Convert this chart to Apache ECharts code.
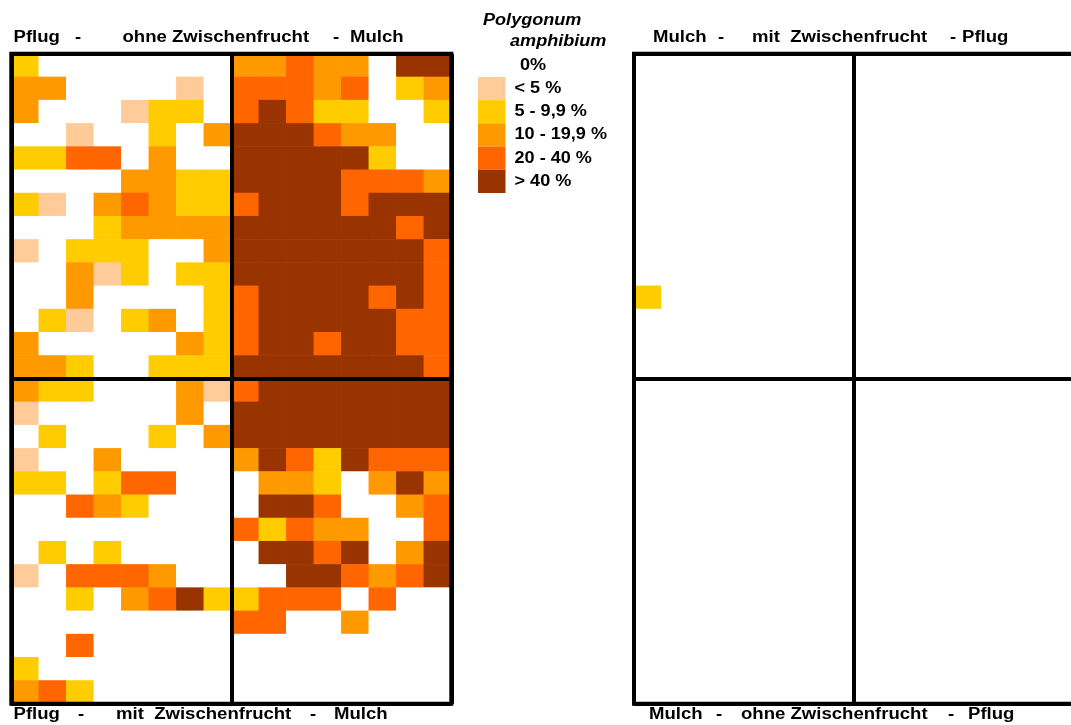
<!DOCTYPE html>
<html>
<head>
<meta charset="utf-8">
<title>Polygonum amphibium – Deckungsgrad</title>
<script src="https://cdn.jsdelivr.net/npm/echarts/dist/echarts.min.js"></script>
<style>
  html, body { margin: 0; padding: 0; background: #fff; }
  #chart { width: 1071px; height: 725px; }
</style>
</head>
<body>
<div id="chart"></div>
<script>
// Cover classes of Polygonum amphibium (index = digit used in the plot rows)
const classLabels = ['0%', '< 5 %', '5 - 9,9 %', '10 - 19,9 %', '20 - 40 %', '> 40 %'];
const speciesName = ['Polygonum', 'amphibium'];

// Field A, upper half: ohne Zwischenfrucht (left: Pflug, right: Mulch); one digit per plot
const aPflugOhne = [
  '20000000', '33000010', '30001220', '00100203', '22440300', '00003322', '21034322',
  '00023333', '10222003', '00312022', '00300002', '02102302', '30000032', '33200222'
];
const aMulchOhne = [
  '33433055', '44434023', '45422002', '55543300', '55555200', '55554443', '45554555',
  '55555545', '55555554', '55555554', '45555454', '45555544', '45545544', '55555554'
];
// Field A, lower half: mit Zwischenfrucht
const aPflugMit = [
  '32200031', '10000030', '02000203', '10030000', '22024400', '00432000', '00000000',
  '02020000', '10444300', '00203452', '00000000', '00400000', '20000000', '34200000'
];
const aMulchMit = [
  '45555555', '55555555', '55555555', '35425444', '03320353', '05540034', '42433004',
  '05545035', '00554345', '24440400', '44003000', '00000000', '00000000', '00000000'
];

// Field B, upper half: mit Zwischenfrucht (left: Mulch, right: Pflug)
const bMulchMit = [
  '00000000', '00000000', '00000000', '00000000', '00000000', '00000000', '00000000',
  '00000000', '00000000', '00000000', '20000000', '00000000', '00000000', '00000000'
];
const bPflugMit = [
  '00000000', '00000000', '00000000', '00000000', '00000000', '00000000', '00000000',
  '00000000', '00000000', '00000000', '00000000', '00000000', '00000000', '00000000'
];
// Field B, lower half: ohne Zwischenfrucht
const bMulchOhne = [
  '00000000', '00000000', '00000000', '00000000', '00000000', '00000000', '00000000',
  '00000000', '00000000', '00000000', '00000000', '00000000', '00000000', '00000000'
];
const bPflugOhne = [
  '00000000', '00000000', '00000000', '00000000', '00000000', '00000000', '00000000',
  '00000000', '00000000', '00000000', '00000000', '00000000', '00000000', '00000000'
];

// Headings above and below each field
const titleTopA = ['Pflug', '-', 'ohne Zwischenfrucht', '-', 'Mulch'];
const titleBottomA = ['Pflug', '-', 'mit  Zwischenfrucht', '-', 'Mulch'];
const titleTopB = ['Mulch', '-', 'mit  Zwischenfrucht', '-', 'Pflug'];
const titleBottomB = ['Mulch', '-', 'ohne Zwischenfrucht', '-', 'Pflug'];

// ---- styling / layout ----
const classColors = ['#FFFFFF', '#FFCC99', '#FFCC00', '#FF9900', '#FF6600', '#993300'];
const FONT_FAMILY = '"Liberation Sans", Arial, Helvetica, sans-serif';
const GRID_TOP = 53.7, GRID_W = 440, GRID_H = 650;
const ROW_H = GRID_H / 28;
const titleX = {
  topA: [13.5, 75, 122.5, 333, 350],
  bottomA: [13.5, 78, 116, 310, 334],
  topB: [653, 718, 752, 950, 962],
  bottomB: [649, 716, 741, 948, 968]
};
const TITLE_TOP_Y = 37.5, TITLE_BOTTOM_Y = 714.5;

function blockCells(topLeft, topRight, bottomLeft, bottomRight) {
  const rows = topLeft.map((r, i) => r + topRight[i])
    .concat(bottomLeft.map((r, i) => r + bottomRight[i]));
  const cells = [];
  rows.forEach((row, y) => row.split('').forEach((ch, x) => cells.push([x, y, Number(ch)])));
  return cells;
}

const cellsA = blockCells(aPflugOhne, aMulchOhne, aPflugMit, aMulchMit);
const cellsB = blockCells(bMulchMit, bPflugMit, bMulchOhne, bPflugOhne);
const nCols = aPflugOhne[0].length * 2;
const nRows = aPflugOhne.length * 2;
const colIds = Array.from({ length: nCols }, (_, i) => String(i));
const rowIds = Array.from({ length: nRows }, (_, i) => String(i));

function xAxisFor(gridIndex) {
  return {
    gridIndex, type: 'category', data: colIds, z: 5,
    axisLine: { show: false }, axisTick: { show: false }, axisLabel: { show: false },
    splitLine: { show: true, interval: nCols / 2 - 1, lineStyle: { color: '#000', width: 4 } }
  };
}
function yAxisFor(gridIndex) {
  return {
    gridIndex, type: 'category', data: rowIds, inverse: true, z: 5,
    axisLine: { show: false }, axisTick: { show: false }, axisLabel: { show: false },
    splitLine: { show: true, interval: nRows / 2 - 1, lineStyle: { color: '#000', width: 4 } }
  };
}
function gridAt(left) {
  return {
    left, top: GRID_TOP, width: GRID_W, height: GRID_H, show: true, z: 5,
    backgroundColor: 'transparent', borderColor: '#000', borderWidth: 4,
    containLabel: false, outerBoundsMode: 'none'
  };
}

function titleTexts(words, xs, y) {
  return words.map((w, i) => ({
    type: 'text', x: xs[i], y, scaleX: 1.16, silent: true,
    style: {
      text: w, fill: '#000', font: 'bold 16px ' + FONT_FAMILY,
      textVerticalAlign: 'middle', verticalAlign: 'middle'
    }
  }));
}

const LEGEND_X = 478, LEGEND_SW = 27.5;
const legendGraphics = [];
classLabels.forEach((label, i) => {
  const y = GRID_TOP + ROW_H * i;
  legendGraphics.push({
    type: 'rect', silent: true,
    shape: { x: LEGEND_X, y, width: LEGEND_SW, height: ROW_H },
    style: { fill: classColors[i] }
  });
  legendGraphics.push({
    type: 'text', silent: true, x: i === 0 ? 520 : 514.5, y: y + ROW_H / 2, scaleX: 1.13,
    style: {
      text: label, fill: '#000', font: 'bold 16px ' + FONT_FAMILY,
      textVerticalAlign: 'middle', verticalAlign: 'middle'
    }
  });
});
speciesName.forEach((w, i) => {
  legendGraphics.push({
    type: 'text', silent: true, x: i === 0 ? 483 : 510, y: i === 0 ? 21 : 41.5, scaleX: 1.13,
    style: {
      text: w, fill: '#000', font: 'italic bold 16px ' + FONT_FAMILY,
      textVerticalAlign: 'middle', verticalAlign: 'middle'
    }
  });
});

const chart = echarts.init(document.getElementById('chart'), null, { renderer: 'canvas' });
chart.setOption({
  animation: false,
  backgroundColor: '#fff',
  grid: [gridAt(11.3), gridAt(634)],
  xAxis: [xAxisFor(0), xAxisFor(1)],
  yAxis: [yAxisFor(0), yAxisFor(1)],
  visualMap: {
    type: 'piecewise', show: false, dimension: 2, seriesIndex: [0, 1],
    pieces: classLabels.map((label, i) => ({ value: i, label, color: classColors[i] }))
  },
  series: [
    { type: 'heatmap', xAxisIndex: 0, yAxisIndex: 0, data: cellsA, emphasis: { disabled: true }, z: 2 },
    { type: 'heatmap', xAxisIndex: 1, yAxisIndex: 1, data: cellsB, emphasis: { disabled: true }, z: 2 }
  ],
  graphic: [
    ...titleTexts(titleTopA, titleX.topA, TITLE_TOP_Y),
    ...titleTexts(titleBottomA, titleX.bottomA, TITLE_BOTTOM_Y),
    ...titleTexts(titleTopB, titleX.topB, TITLE_TOP_Y),
    ...titleTexts(titleBottomB, titleX.bottomB, TITLE_BOTTOM_Y),
    ...legendGraphics
  ]
});
</script>
</body>
</html>
